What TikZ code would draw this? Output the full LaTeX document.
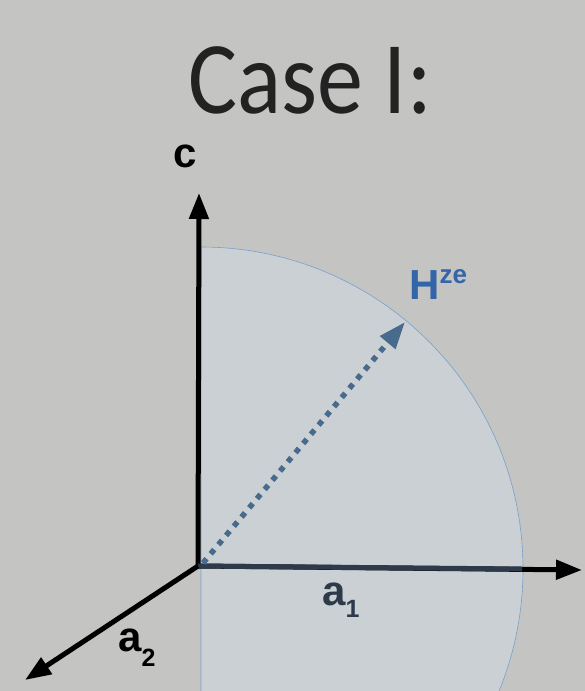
\documentclass[tikz,border=0pt]{standalone}
\usepackage{fontspec}
\setmainfont{Liberation Sans}
\newfontfamily\titlefont{Carlito}
\usetikzlibrary{arrows.meta}
\definecolor{bggray}{RGB}{196,197,195}
\definecolor{discfill}{RGB}{203,208,212}
\definecolor{discedge}{RGB}{120,160,205}
\definecolor{slatedark}{RGB}{44,58,74}
\definecolor{hzblue}{RGB}{52,101,168}
\definecolor{hzarrow}{RGB}{72,106,140}
\definecolor{titleblack}{RGB}{34,34,34}

\tikzset{
  axis/.style={line width=5pt, -{Triangle[length=26pt,width=19pt]}},
  lbl/.style={font=\fontsize{42}{42}\selectfont\bfseries, inner sep=0pt},
}

\begin{document}
\begin{tikzpicture}[x=1pt,y=-1pt]
  \useasboundingbox[fill=bggray] (0,0) rectangle (585,691);

  % points
  \coordinate (o) at (198,566);
  \coordinate (ctip) at (199,193);
  \coordinate (a1tip) at (582,570);
  \coordinate (a1edge) at (522,569);
  \coordinate (a2tip) at (25,680);
  \coordinate (htip) at (405,322);

  % quarter disc of the field
  \begin{scope}
    \clip (0,0) rectangle (585,691);
    \filldraw[fill=discfill, draw=discedge, line width=0.6pt]
      (201,891) -- (201,247) arc (-90:90:322) -- cycle;
  \end{scope}

  % axes
  \draw[axis, black] (o) -- (ctip);
  \draw[axis, black] (o) -- (a1tip);
  \draw[line width=5pt, slatedark] (o) -- (a1edge);
  \draw[axis, black] (o) -- (a2tip);

  % field direction
  \draw[hzarrow, line width=5.5pt, dash pattern=on 5.5pt off 6.5pt,
        -{Triangle[length=27pt,width=19pt]}] ([shift={(5,-3)}]o) -- (htip);

  % labels
  \node[titleblack, inner sep=0pt, anchor=base,
        font=\titlefont\fontsize{92}{92}\selectfont] (title) at (310,113)
    {\scalebox{1}[1.12]{Case I:}};
  \node[lbl] (clbl) at (185,156) {c};
  \node[lbl, slatedark, anchor=base west] (a1lbl) at (322,605)
    {a\raisebox{-12pt}{\fontsize{25}{25}\selectfont 1}};
  \node[lbl, black, anchor=base west] (a2lbl) at (118,651)
    {a\raisebox{-15pt}{\fontsize{25}{25}\selectfont 2}};
  \node[lbl, hzblue, anchor=base west] (hlbl) at (409,299)
    {H\raisebox{16pt}{\fontsize{26}{26}\selectfont ze}};
\end{tikzpicture}
\end{document}
